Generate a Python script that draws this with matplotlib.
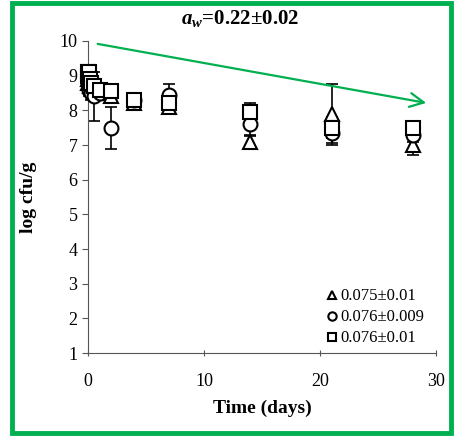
import numpy as np
import matplotlib
matplotlib.use('Agg')
import matplotlib.pyplot as plt
from matplotlib.patches import Rectangle

plt.rcParams['font.family'] = 'Liberation Serif'
plt.rcParams['mathtext.fontset'] = 'custom'
plt.rcParams['mathtext.rm'] = 'Liberation Serif'
plt.rcParams['mathtext.it'] = 'Liberation Serif:italic:bold'
plt.rcParams['mathtext.bf'] = 'Liberation Serif:bold'

# 取样时间（天）
days = [0, 0.04, 0.08, 0.17, 0.25, 0.5, 1, 2, 4, 7, 14, 21, 28]

# 三组数据 log cfu/g
tri_y = [8.9, 8.8, 8.9, 8.7, 8.8, 8.6, 8.5, 8.4, 8.2, 8.1, 7.1, 7.9, 7.0]
tri_err = [0.2, 0.2, 0.2, 0.2, 0.2, 0.2, 0.2, 0.2, 0.15, 0.15, 0.15, 0.85, 0.3]
cir_y = [9.0, 8.8, 8.6, 8.7, 8.5, 8.4, 8.5, 7.5, 8.3, 8.45, 7.6, 7.35, 7.3]
cir_err = [0.2, 0.2, 0.2, 0.2, 0.2, 0.7, 0.2, 0.6, 0.15, 0.3, 0.3, 0.35, 0.2]
sq_y = [9.1, 9.0, 9.1, 8.9, 8.8, 8.7, 8.6, 8.55, 8.3, 8.2, 7.95, 7.5, 7.5]
sq_err = [0.2, 0.2, 0.2, 0.2, 0.2, 0.2, 0.2, 0.2, 0.15, 0.15, 0.25, 0.3, 0.2]

labels = ['0.075\u00b10.01', '0.076\u00b10.009', '0.076\u00b10.01']

fig = plt.figure(figsize=(4.56, 4.36), dpi=100)
ax = fig.add_axes([0.193, 0.19, 0.763, 0.716])

series = [(tri_y, tri_err, '^'), (cir_y, cir_err, 'o'), (sq_y, sq_err, 's')]
handles = []
for (yv, ye, m), lab in zip(series, labels):
    eb = ax.errorbar(days, yv, yerr=ye, fmt='none', ecolor='black', elinewidth=1.2,
                     capsize=4, capthick=1.2, zorder=2)
    for art in eb.get_children():
        art.set_clip_on(False)
    h, = ax.plot(days, yv, m, mfc='white', mec='black', mew=1.5, ms=10,
                 linestyle='none', zorder=3, label=lab, clip_on=False)
    handles.append(h)

ax.set_xlim(0, 30)
ax.set_ylim(1, 10)
ax.set_xticks([0, 10, 20, 30])
ax.set_yticks(range(1, 11))
ax.tick_params(axis='both', labelsize=13, color='#555555', length=4)
ax.tick_params(axis='x', direction='inout', pad=12)
for s in ['top', 'right']:
    ax.spines[s].set_visible(False)
for s in ['left', 'bottom']:
    ax.spines[s].set_color('#555555')

ax.set_xlabel('Time (days)', fontsize=14, fontweight='bold', labelpad=7)
ax.set_ylabel('log cfu/g', fontsize=14, fontweight='bold', labelpad=16)

leg = ax.legend(handles=[plt.Line2D([], [], marker=h.get_marker(), mfc='white',
                                    mec='black', mew=1.5, ms=6, linestyle='none')
                         for h in handles],
                labels=labels, loc='lower right', bbox_to_anchor=(0.985, 0.0),
                frameon=False, fontsize=12, handletextpad=0.1, handlelength=0.8,
                labelspacing=0.3, borderaxespad=0.0)

fig.text(0.527, 0.957, r'$\mathit{a_w}$=0.22±0.02', fontsize=15, fontweight='bold',
         ha='center', va='center')

# 绿色箭头
ax.annotate('', xy=(29.4, 8.2), xytext=(0.6, 9.93),
            arrowprops=dict(arrowstyle='->,head_length=1.0,head_width=0.5',
                            color='#00b050', lw=1.6),
            annotation_clip=False)

# 绿色外框
fig.patches.append(Rectangle((0.026, 0.008), 0.963, 0.985, transform=fig.transFigure,
                             fill=False, edgecolor='#00b050', lw=3.5))

fig.savefig('out.png', dpi=100)
